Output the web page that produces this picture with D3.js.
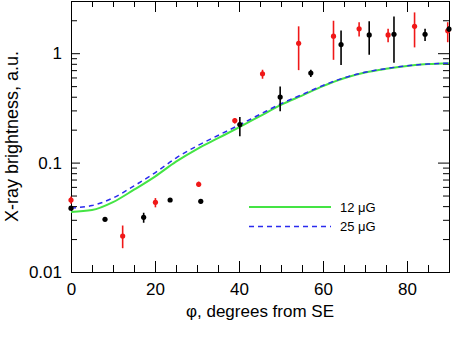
<!DOCTYPE html>
<html>
<head>
<meta charset="utf-8">
<script src="https://cdn.jsdelivr.net/npm/d3@7"></script>
<style>
  body { margin: 0; background: #fff; }
  text { font-family: "Liberation Sans", Arial, sans-serif; }
</style>
</head>
<body>
<div id="chart"></div>
<script>
// Model curves, every 5 degrees
const phiGrid = [0, 5, 10, 15, 20, 25, 30, 35, 40, 45, 50, 55, 60, 65, 70, 75, 80, 85, 90];
const curve12 = [0.0354, 0.0368, 0.0435, 0.0565, 0.0745, 0.102, 0.133, 0.167, 0.21, 0.266, 0.337, 0.41, 0.50, 0.59, 0.665, 0.72, 0.765, 0.795, 0.81];
const curve25 = [0.0385, 0.0405, 0.0475, 0.0612, 0.0806, 0.110, 0.142, 0.177, 0.220, 0.276, 0.345, 0.418, 0.507, 0.595, 0.669, 0.723, 0.767, 0.796, 0.811];

// Measured points: angle, value, lower and upper error bounds
const redPhi = [0, 12.3, 20.1, 30.4, 39.0, 45.6, 54.2, 62.5, 68.6, 75.5, 81.8, 89.7];
const redVal = [0.0455, 0.0213, 0.0433, 0.0633, 0.242, 0.649, 1.23, 1.43, 1.67, 1.47, 1.76, 1.60];
const redLo  = [0.042, 0.0165, 0.039, 0.060, 0.228, 0.584, 0.70, 0.87, 1.42, 1.26, 1.13, 1.26];
const redHi  = [0.049, 0.0266, 0.0474, 0.067, 0.256, 0.706, 1.76, 1.98, 1.92, 1.67, 2.36, 1.92];

const blackPhi = [0, 8.1, 17.3, 23.6, 30.9, 40.2, 49.8, 57.1, 64.3, 71.0, 76.9, 84.3, 90];
const blackVal = [0.0383, 0.0303, 0.0316, 0.0455, 0.0443, 0.223, 0.397, 0.658, 1.20, 1.47, 1.49, 1.49, 1.66];
const blackLo  = [0.0375, 0.0298, 0.0282, 0.0445, 0.0425, 0.174, 0.295, 0.605, 0.78, 0.97, 0.82, 1.29, 1.56];
const blackHi  = [0.0391, 0.0308, 0.0348, 0.0465, 0.0462, 0.261, 0.497, 0.706, 1.61, 1.96, 2.16, 1.67, 1.76];

const xMajor = [0, 20, 40, 60, 80];
const xMinor = [5, 10, 15, 25, 30, 35, 45, 50, 55, 65, 70, 75, 85];
const yMajor = [0.01, 0.1, 1];
const yMinor = [0.02, 0.03, 0.04, 0.05, 0.06, 0.07, 0.08, 0.09,
                0.2, 0.3, 0.4, 0.5, 0.6, 0.7, 0.8, 0.9, 2];

const legendItems = ["12 \u03bcG", "25 \u03bcG"];

const margin = { top: 1, right: 3, bottom: 76, left: 71 };
const width = 452 - margin.left - margin.right;
const height = 348 - margin.top - margin.bottom;

const svg = d3.select("#chart")
  .append("svg")
    .attr("width", width + margin.left + margin.right)
    .attr("height", height + margin.top + margin.bottom)
  .append("g")
    .attr("transform", `translate(${margin.left},${margin.top})`);

const x = d3.scaleLinear().domain([0, 90]).range([0, width]);
const y = d3.scaleLog().domain([0.01, 3]).range([height, 0]);

const green = "#44e444";
const blue = "#2b2bee";
const red = "#f01818";

// Axes: major and minor ticks on all four sides, pointing inward
function styleAxis(g) {
  g.selectAll("path, line").attr("stroke", "#000");
  g.selectAll("text").attr("fill", "#000").style("font-size", "17px");
}

svg.append("g")
  .attr("transform", `translate(0,${height})`)
  .call(d3.axisBottom(x).tickValues(xMajor).tickSize(-11).tickPadding(11).tickFormat(d3.format("d")))
  .call(styleAxis);
svg.append("g")
  .attr("transform", `translate(0,${height})`)
  .call(d3.axisBottom(x).tickValues(xMinor).tickSize(-7).tickFormat(""))
  .call(styleAxis);
svg.append("g")
  .call(d3.axisTop(x).tickValues(xMajor).tickSize(-11).tickFormat(""))
  .call(styleAxis);
svg.append("g")
  .call(d3.axisTop(x).tickValues(xMinor).tickSize(-6).tickFormat(""))
  .call(styleAxis);

svg.append("g")
  .call(d3.axisLeft(y).tickValues(yMajor).tickSize(-9).tickPadding(9).tickFormat(d => String(d)))
  .call(styleAxis);
svg.append("g")
  .call(d3.axisLeft(y).tickValues(yMinor).tickSize(-6).tickFormat(""))
  .call(styleAxis);
svg.append("g")
  .attr("transform", `translate(${width},0)`)
  .call(d3.axisRight(y).tickValues(yMajor).tickSize(-11).tickFormat(""))
  .call(styleAxis);
svg.append("g")
  .attr("transform", `translate(${width},0)`)
  .call(d3.axisRight(y).tickValues(yMinor).tickSize(-6).tickFormat(""))
  .call(styleAxis);

// Axis titles
svg.append("text")
  .attr("x", width / 2)
  .attr("y", height + 45)
  .attr("text-anchor", "middle")
  .style("font-size", "17px")
  .text("\u03c6, degrees from SE");

svg.append("text")
  .attr("transform", `translate(${-59},${height / 2}) rotate(-90)`)
  .attr("text-anchor", "middle")
  .attr("dy", "0.35em")
  .style("font-size", "18px")
  .text("X-ray brightness, a.u.");

// Model curves
const line = d3.line()
  .x((d, i) => x(phiGrid[i]))
  .y(d => y(d))
  .curve(d3.curveMonotoneX);

svg.append("path")
  .datum(curve12)
  .attr("fill", "none")
  .attr("stroke", green)
  .attr("stroke-width", 2)
  .attr("d", line);

svg.append("path")
  .datum(curve25)
  .attr("fill", "none")
  .attr("stroke", blue)
  .attr("stroke-width", 1.5)
  .attr("stroke-dasharray", "5,4")
  .attr("d", line);

// Data points with error bars
function drawPoints(phi, val, lo, hi, color) {
  const pts = phi.map((p, i) => ({ p, v: val[i], lo: lo[i], hi: hi[i] }));
  const g = svg.append("g");
  g.selectAll("line")
    .data(pts)
    .enter().append("line")
      .attr("x1", d => x(d.p))
      .attr("x2", d => x(d.p))
      .attr("y1", d => y(d.lo))
      .attr("y2", d => y(d.hi))
      .attr("stroke", color)
      .attr("stroke-width", 1.6);
  g.selectAll("circle")
    .data(pts)
    .enter().append("circle")
      .attr("cx", d => x(d.p))
      .attr("cy", d => y(d.v))
      .attr("r", 2.6)
      .attr("fill", color);
}
drawPoints(redPhi, redVal, redLo, redHi, red);
drawPoints(blackPhi, blackVal, blackLo, blackHi, "#000");

// Legend
const legend = svg.append("g")
  .attr("transform", `translate(${249 - margin.left},${207 - margin.top})`);

legend.selectAll("line")
  .data(legendItems)
  .enter().append("line")
    .attr("x1", 0)
    .attr("x2", 82)
    .attr("y1", (d, i) => i * 19.5)
    .attr("y2", (d, i) => i * 19.5)
    .attr("stroke", (d, i) => i === 0 ? green : blue)
    .attr("stroke-width", (d, i) => i === 0 ? 2 : 1.5)
    .attr("stroke-dasharray", (d, i) => i === 0 ? null : "5,4");

legend.selectAll("text")
  .data(legendItems)
  .enter().append("text")
    .attr("x", 91)
    .attr("y", (d, i) => i * 19.5)
    .attr("dy", "0.35em")
    .style("font-size", "13px")
    .text(d => d);
</script>
</body>
</html>
